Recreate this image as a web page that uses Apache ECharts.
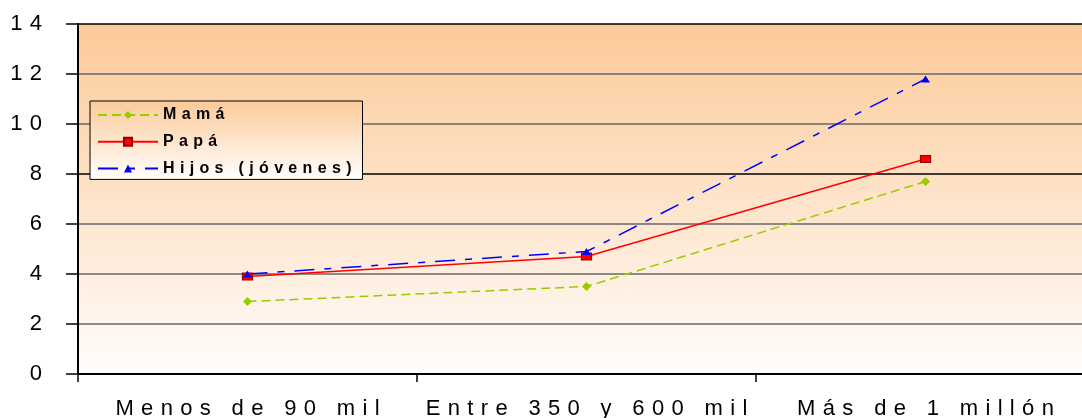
<!DOCTYPE html>
<html>
<head>
<meta charset="utf-8">
<script src="https://cdn.jsdelivr.net/npm/echarts@6/dist/echarts.min.js"></script>
<style>
html,body{margin:0;padding:0;background:#fff;}
#chart{width:1082px;height:418px;}
</style>
</head>
<body>
<div id="chart"></div>
<script>
const categories = ['Menos de 90 mil', 'Entre 350 y 600 mil', 'Más de 1 millón'];
const mama = [2.9, 3.5, 7.7];
const papa = [3.9, 4.7, 8.6];
const hijos = [4.0, 4.9, 11.8];
const seriesNames = ['Mamá', 'Papá', 'Hijos (jóvenes)'];

const spaced = (s, sep) => s.split('').join(sep);

const chart = echarts.init(document.getElementById('chart'));
const grad = new echarts.graphic.LinearGradient(0, 0, 0, 1, [
  {offset: 0, color: '#FCCA98'},
  {offset: 1, color: '#FFFDFB'}
]);
chart.setOption({
  animation: false,
  textStyle: {fontFamily: 'Liberation Sans, Arial, sans-serif'},
  grid: {left: 78, top: 24, height: 350, width: 1017, show: true,
         containLabel: false, outerBoundsMode: 'none',
         backgroundColor: grad, borderWidth: 0},
  legend: {
    orient: 'vertical', left: 90, top: 101,
    data: seriesNames,
    itemWidth: 60, itemHeight: 10, itemGap: 10.7, itemTextGap: 8,
    padding: [6, 11, 3, 7],
    backgroundColor: new echarts.graphic.LinearGradient(0, 0, 0, 1, [
      {offset: 0, color: '#FCCA98'}, {offset: 1, color: '#FFFFFF'}]),
    borderColor: '#000', borderWidth: 1,
    formatter: n => spaced(n, '\u2004'),
    textStyle: {fontSize: 16, fontWeight: 'bold', color: '#000', lineHeight: 16,
                fontFamily: 'Liberation Sans, Arial, sans-serif'}
  },
  xAxis: {
    type: 'category', data: categories, boundaryGap: true,
    axisLine: {lineStyle: {color: '#000', width: 2}},
    axisTick: {show: true, length: 8, lineStyle: {color: '#000', width: 1.5}},
    axisLabel: {fontSize: 22, color: '#000', margin: 24, interval: 0,
                formatter: v => spaced(v, '\u2004')}
  },
  yAxis: {
    type: 'value', min: 0, max: 14, interval: 2,
    axisLine: {show: true, lineStyle: {color: '#000', width: 2}},
    axisTick: {show: true, length: 12, lineStyle: {color: '#000', width: 1.5}},
    axisLabel: {fontSize: 22, color: '#000', margin: 36,
                formatter: v => spaced(String(v), '\u2004')},
    splitLine: {show: true, lineStyle: {color: ['#000', '#666', '#666', '#666', '#000', '#666', '#666', '#000'], width: 1.5}}
  },
  series: [
    {name: seriesNames[0], type: 'line', data: mama,
     symbol: 'diamond', symbolSize: 9,
     lineStyle: {color: '#99CC00', width: 1.5, type: [9, 5]},
     itemStyle: {color: '#99CC00'}},
    {name: seriesNames[1], type: 'line', data: papa,
     symbol: 'rect', symbolSize: [10, 7],
     lineStyle: {color: '#FF0000', width: 1.5, type: 'solid'},
     itemStyle: {color: '#FF0000', borderColor: '#990000', borderWidth: 1}},
    {name: seriesNames[2], type: 'line', data: hijos,
     symbol: 'triangle', symbolSize: [9, 7],
     lineStyle: {color: '#0000FF', width: 1.5, type: [20, 10, 7, 10]},
     itemStyle: {color: '#0000FF'}}
  ]
});
</script>
</body>
</html>
